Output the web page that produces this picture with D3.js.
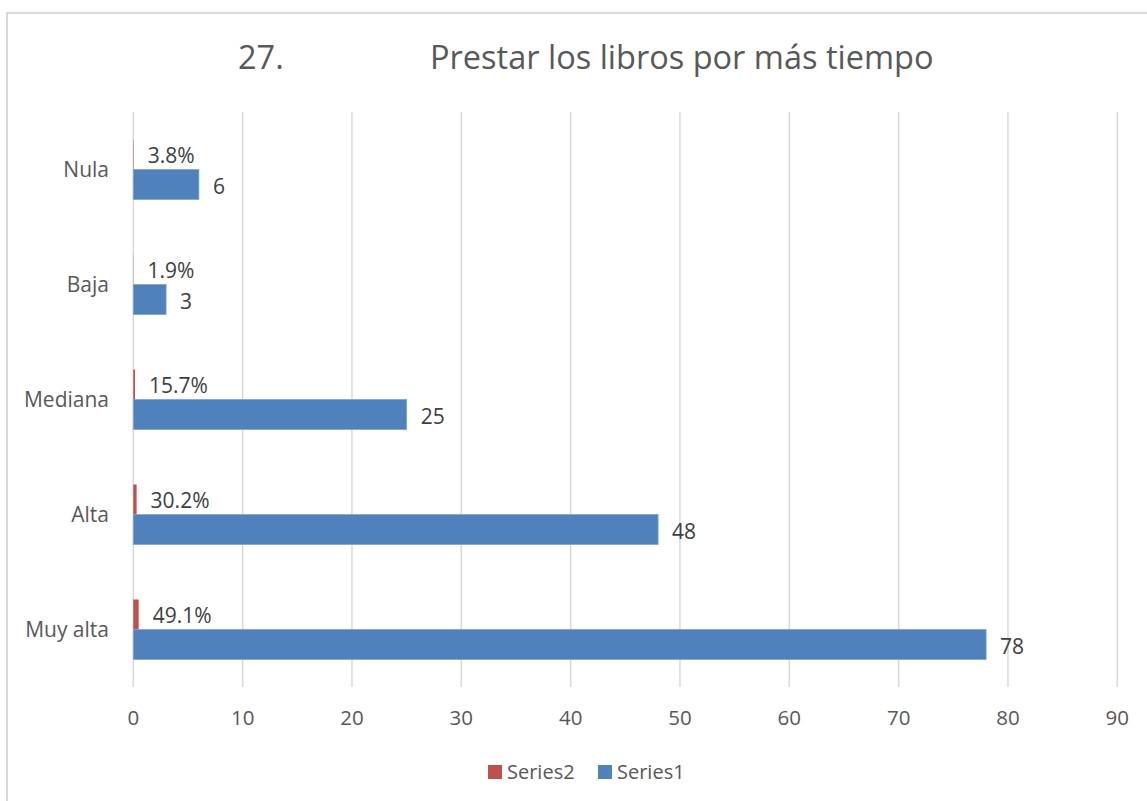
<!DOCTYPE html>
<html>
<head>
<meta charset="utf-8">
<script src="https://cdn.jsdelivr.net/npm/d3@7"></script>
<style>
  body { margin: 0; background: #fff; }
  text { font-family: "Open Sans", "Noto Sans", sans-serif; }
</style>
</head>
<body>
<div id="chart"></div>
<script>
// data
const categories = ["Nula", "Baja", "Mediana", "Alta", "Muy alta"];
const series1 = [6, 3, 25, 48, 78];
const series2 = [0.038, 0.019, 0.157, 0.302, 0.491];
const seriesNames = ["Series2", "Series1"];
const xTicks = [0, 10, 20, 30, 40, 50, 60, 70, 80, 90];
const titleNum = "27.";
const titleText = "Prestar los libros por más tiempo";

const W = 1147, H = 801;
const colors = { Series1: "#4F81BD", Series2: "#C0504D" };

const svg = d3.select("#chart").append("svg")
  .attr("width", W).attr("height", H);

svg.append("rect").attr("width", W).attr("height", H).attr("fill", "#fff");

// outer chart frame (runs off the right and bottom edge)
svg.append("rect")
  .attr("x", 7).attr("y", 13)
  .attr("width", W + 20).attr("height", H + 20)
  .attr("fill", "none").attr("stroke", "#d9d9d9").attr("stroke-width", 2);

const x = d3.scaleLinear().domain([0, 90]).range([133.3, 1117.3]);
const y = d3.scaleBand().domain(categories).range([112, 687]);
const inner = d3.scaleBand().domain(seriesNames).range([-30, 30]);

// title
svg.append("text").attr("x", 238).attr("y", 69)
  .attr("font-size", 32.5).attr("fill", "#595959").text(titleNum);
svg.append("text").attr("x", 430).attr("y", 69)
  .attr("font-size", 32.5).attr("fill", "#595959").text(titleText);

// gridlines
svg.append("g").selectAll("line").data(xTicks).join("line")
  .attr("x1", d => x(d)).attr("x2", d => x(d))
  .attr("y1", 112).attr("y2", 687)
  .attr("stroke", "#d9d9d9").attr("stroke-width", 1.5);

// x tick labels
svg.append("g").selectAll("text").data(xTicks).join("text")
  .attr("x", d => x(d)).attr("y", 718)
  .attr("dy", "0.35em").attr("text-anchor", "middle")
  .attr("font-size", 20.5).attr("fill", "#595959")
  .text(d => d);

// category labels
svg.append("g").selectAll("text").data(categories).join("text")
  .attr("x", 109).attr("y", d => y(d) + y.bandwidth() / 2)
  .attr("dy", "0.35em").attr("text-anchor", "end")
  .attr("font-size", 21).attr("fill", "#595959")
  .text(d => d);

const rows = categories.map((c, i) => ({ cat: c, s1: series1[i], s2: series2[i] }));
const mid = d => y(d.cat) + y.bandwidth() / 2;

// Series2 bars (tiny, red) above Series1
svg.append("g").selectAll("rect").data(rows).join("rect")
  .attr("x", x(0))
  .attr("y", d => mid(d) + inner("Series2"))
  .attr("width", d => x(d.s2) - x(0))
  .attr("height", inner.bandwidth())
  .attr("fill", colors.Series2);

svg.append("g").selectAll("rect").data(rows).join("rect")
  .attr("x", x(0))
  .attr("y", d => mid(d) + inner("Series1"))
  .attr("width", d => x(d.s1) - x(0))
  .attr("height", inner.bandwidth())
  .attr("fill", colors.Series1)
  .attr("stroke", "#7fa3cf").attr("stroke-width", 0.8);

// data labels
svg.append("g").selectAll("text").data(rows).join("text")
  .attr("x", d => x(d.s2) + 14)
  .attr("y", d => mid(d) + inner("Series2") + inner.bandwidth() / 2 + 1)
  .attr("dy", "0.35em")
  .attr("font-size", 21).attr("fill", "#404040")
  .text(d => d3.format(".1%")(d.s2));

svg.append("g").selectAll("text").data(rows).join("text")
  .attr("x", d => x(d.s1) + 14)
  .attr("y", d => mid(d) + inner("Series1") + inner.bandwidth() / 2 + 2)
  .attr("dy", "0.35em")
  .attr("font-size", 21).attr("fill", "#404040")
  .text(d => d.s1);

// legend
const legend = svg.append("g").selectAll("g").data(seriesNames).join("g")
  .attr("transform", (d, i) => "translate(" + [488, 598][i] + ",765)");
legend.append("rect").attr("width", 14).attr("height", 14)
  .attr("fill", d => colors[d]);
legend.append("text").attr("x", 19).attr("y", 7).attr("dy", "0.35em")
  .attr("font-size", 20).attr("fill", "#595959")
  .text(d => d);
</script>
</body>
</html>
